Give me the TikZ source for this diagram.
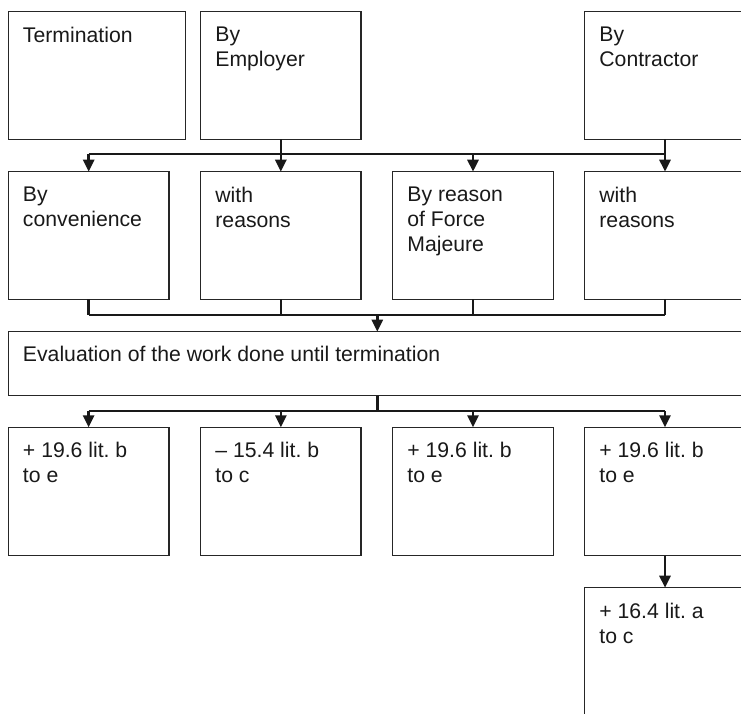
\documentclass[tikz,border=0pt]{standalone}
\usepackage{fontspec}
\setmainfont{Liberation Sans}
\usetikzlibrary{arrows.meta}
\frenchspacing
\begin{document}
\begin{tikzpicture}[x=1pt,y=-1pt,
  box/.style={draw=black!85,line width=1.1pt,rectangle,inner sep=0pt,outer sep=0pt},
  txt/.style={anchor=north west,inner sep=0pt,align=left,xshift=14.5pt,yshift=-15pt,
    font=\fontsize{21.2}{25}\selectfont\frenchspacing,text=black!90},
  bus/.style={line width=2.7pt,black!90},
  arr/.style={bus,-{Triangle[width=11pt,length=12pt]}}]
\useasboundingbox (0,0) rectangle (741,713);
\clip (0,0) rectangle (741,713);
% row 1
\node[box,minimum width=177.4pt,minimum height=127.6pt,anchor=north west,
  label={[txt]north west:Termination}] (term) at (8.3,11.7) {};
\node[box,minimum width=160.3pt,minimum height=127.6pt,anchor=north west,
  label={[txt]north west:By\\Employer}] (emp) at (200.7,11.7) {};
\node[box,minimum width=180pt,minimum height=127.6pt,anchor=north west,
  label={[txt]north west:By\\Contractor}] (con) at (584.7,11.7) {};
% row 2
\node[box,minimum width=160.7pt,minimum height=127.6pt,anchor=north west,
  label={[txt]north west:By\\convenience}] (conv) at (8.3,171.7) {};
\node[box,minimum width=160.3pt,minimum height=127.6pt,anchor=north west,
  label={[txt]north west:with\\reasons}] (wra) at (200.7,171.7) {};
\node[box,minimum width=160.6pt,minimum height=127.6pt,anchor=north west,
  label={[txt]north west:By reason\\of Force\\Majeure}] (fm) at (392.7,171.7) {};
\node[box,minimum width=180pt,minimum height=127.6pt,anchor=north west,
  label={[txt]north west:with\\reasons}] (wrb) at (584.7,171.7) {};
% evaluation
\node[box,minimum width=756pt,minimum height=64pt,anchor=north west,
  label={[txt,yshift=1pt]north west:Evaluation of the work done until termination}] (eval) at (8.3,331.7) {};
% row 3
\node[box,minimum width=160.7pt,minimum height=128.2pt,anchor=north west,
  label={[txt]north west:+ 19.6 lit. b\\to e}] (ra) at (8.3,427.3) {};
\node[box,minimum width=160.3pt,minimum height=128.2pt,anchor=north west,
  label={[txt]north west:– 15.4 lit. b\\to c}] (rb) at (200.7,427.3) {};
\node[box,minimum width=160.6pt,minimum height=128.2pt,anchor=north west,
  label={[txt]north west:+ 19.6 lit. b\\to e}] (rc) at (392.7,427.3) {};
\node[box,minimum width=180pt,minimum height=128.2pt,anchor=north west,
  label={[txt]north west:+ 19.6 lit. b\\to e}] (rd) at (584.7,427.3) {};
% last
\node[box,minimum width=180pt,minimum height=160pt,anchor=north west,
  label={[txt]north west:+ 16.4 lit. a\\to c}] (last) at (584.7,587.7) {};
% helper coordinates
\coordinate (colr) at (665,0);
\coordinate (colm) at (377.3,0);
\coordinate (busa) at (0,154);
\coordinate (busb) at (0,315);
\coordinate (busc) at (0,411);
% connectors: row 1 -> row 2
\draw[bus] (emp.south) -- (emp.south |- busa);
\draw[bus] (colr |- con.south) -- (colr |- busa);
\draw[bus] (conv.north |- busa) -- (colr |- busa);
\draw[arr] (conv.north |- busa) -- (conv.north);
\draw[arr] (wra.north |- busa) -- (wra.north);
\draw[arr] (fm.north |- busa) -- (fm.north);
\draw[arr] (colr |- busa) -- (colr |- wrb.north);
% row 2 -> evaluation
\draw[bus] (conv.south) -- (conv.south |- busb);
\draw[bus] (wra.south) -- (wra.south |- busb);
\draw[bus] (fm.south) -- (fm.south |- busb);
\draw[bus] (colr |- wrb.south) -- (colr |- busb);
\draw[bus] (conv.south |- busb) -- (colr |- busb);
\draw[arr] (colm |- busb) -- (colm |- eval.north);
% evaluation -> row 3
\draw[bus] (colm |- eval.south) -- (colm |- busc);
\draw[bus] (ra.north |- busc) -- (colr |- busc);
\draw[arr] (ra.north |- busc) -- (ra.north);
\draw[arr] (rb.north |- busc) -- (rb.north);
\draw[arr] (rc.north |- busc) -- (rc.north);
\draw[arr] (colr |- busc) -- (colr |- rd.north);
% row 3 -> last
\draw[arr] (colr |- rd.south) -- (colr |- last.north);
\end{tikzpicture}
\end{document}
